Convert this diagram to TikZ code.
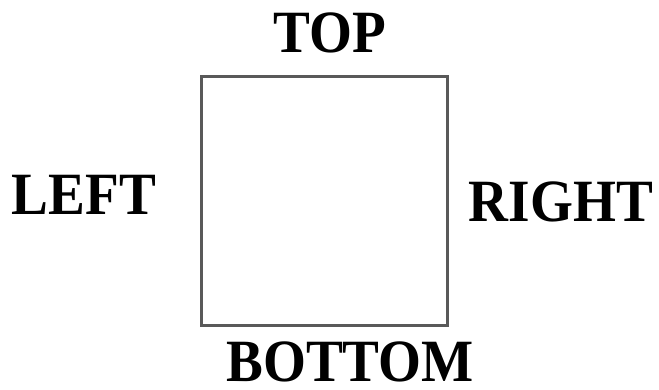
\documentclass[tikz,border=0pt]{standalone}
\usepackage{fontspec}
\setmainfont{Liberation Serif}
\newfontfamily\lblfont[FakeStretch=0.92]{Liberation Serif}
\begin{document}
\begin{tikzpicture}[x=1pt,y=1pt,
  lbl/.style={inner sep=0pt,font=\lblfont\fontsize{60}{64}\selectfont\bfseries,text=black},
  box/.style={draw=black!65,line width=3pt}]
\useasboundingbox[fill=white] (0,0) rectangle (659,389);
\node[box,minimum width=246pt,minimum height=248pt,inner sep=0pt] (sq) at (324,188) {};
\node[lbl] (top) at (330,356) {TOP};
\node[lbl] (left) at (84,194) {LEFT};
\node[lbl] (right) at (561,187) {RIGHT};
\node[lbl] (bottom) at (350,27) {BOTTOM};
\end{tikzpicture}
\end{document}
